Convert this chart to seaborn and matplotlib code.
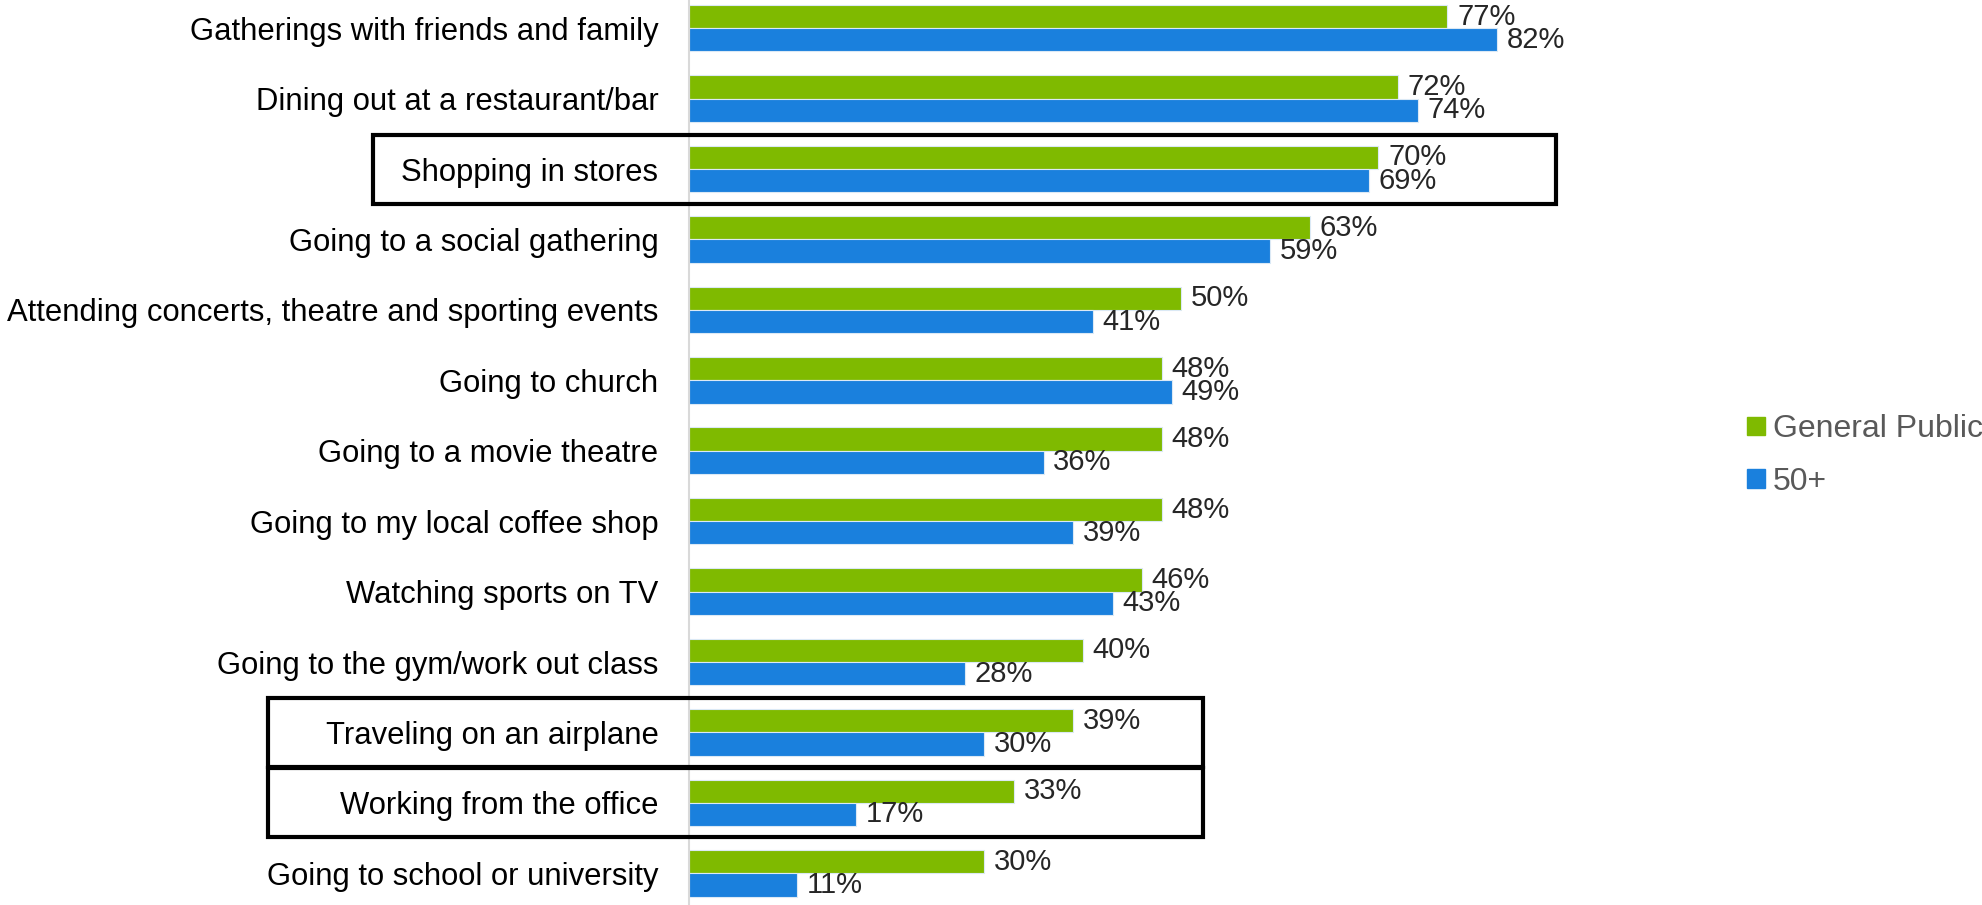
# activities_chart.py
# Horizontal grouped bars: general public vs 50+ comfort with activities

import pandas as pd
import matplotlib.pyplot as plt
import seaborn as sns
from matplotlib.patches import Rectangle
from matplotlib.transforms import blended_transform_factory

# ── DATA ──────────────────────────────────────────────────────────
activities = [
    'Gatherings with friends and family',
    'Dining out at a restaurant/bar',
    'Shopping in stores',
    'Going to a social gathering',
    'Attending concerts, theatre and sporting events',
    'Going to church',
    'Going to a movie theatre',
    'Going to my local coffee shop',
    'Watching sports on TV',
    'Going to the gym/work out class',
    'Traveling on an airplane',
    'Working from the office',
    'Going to school or university',
]
general_public = [77, 72, 70, 63, 50, 48, 48, 48, 46, 40, 39, 33, 30]
age_50_plus    = [82, 74, 69, 59, 41, 49, 36, 39, 43, 28, 30, 17, 11]
series_names   = ['General Public', '50+']
highlighted    = ['Shopping in stores', 'Traveling on an airplane',
                  'Working from the office']

GREEN = '#7FBA00'
BLUE  = '#1A80DD'

df = pd.DataFrame({
    'activity': activities * 2,
    'value'   : general_public + age_50_plus,
    'group'   : [series_names[0]] * len(activities)
                + [series_names[1]] * len(activities),
})

# ── PLOT ──────────────────────────────────────────────────────────
sns.set_style('white')
plt.rcParams['font.family'] = ['Liberation Sans', 'DejaVu Sans']

fig = plt.figure(figsize=(19.82, 9.05), dpi=100)
ax = fig.add_axes([0.3476, 0.0, 0.497, 1.0])

sns.barplot(
    data=df, x='value', y='activity', hue='group',
    order=activities, hue_order=series_names,
    palette=[GREEN, BLUE], saturation=1, orient='h', width=0.66,
    edgecolor='#dbe9f5', linewidth=0.8, legend=False, ax=ax,
)

for cont in ax.containers:
    ax.bar_label(cont, fmt='%d%%', padding=7, fontsize=21,
                 color='#262626')

ax.set_xlim(0, 100)
ax.set_ylim(len(activities) - 0.55, -0.4)
ax.set_xlabel('')
ax.set_ylabel('')
ax.set_xticks([])
ax.tick_params(axis='y', length=0, pad=22, labelsize=22.3,
               labelcolor='#000000')

for side in ['top', 'right', 'bottom']:
    ax.spines[side].set_visible(False)
ax.spines['left'].set_color('#d9d9d9')
ax.spines['left'].set_linewidth(1.5)

# boxes around highlighted rows
trans = blended_transform_factory(fig.transFigure, ax.transData)
box_x = {
    'Shopping in stores'      : (0.188, 0.785),
    'Traveling on an airplane': (0.135, 0.607),
    'Working from the office' : (0.135, 0.607),
}
for name in highlighted:
    i = activities.index(name)
    x0, x1 = box_x[name]
    ax.add_patch(Rectangle((x0, i - 0.49), x1 - x0, 0.98,
                           transform=trans, fill=False,
                           edgecolor='black', linewidth=3,
                           clip_on=False, zorder=5))

# legend
handles = [Rectangle((0, 0), 1, 1, color=c) for c in [GREEN, BLUE]]
fig.legend(handles, series_names, loc='upper left',
           bbox_to_anchor=(0.8815, 0.542), frameon=False,
           fontsize=23, labelcolor='#595959',
           borderpad=0, borderaxespad=0,
           handlelength=0.55, handleheight=0.5, handletextpad=0.25,
           labelspacing=0.7)

plt.savefig('out.png', dpi=100)
